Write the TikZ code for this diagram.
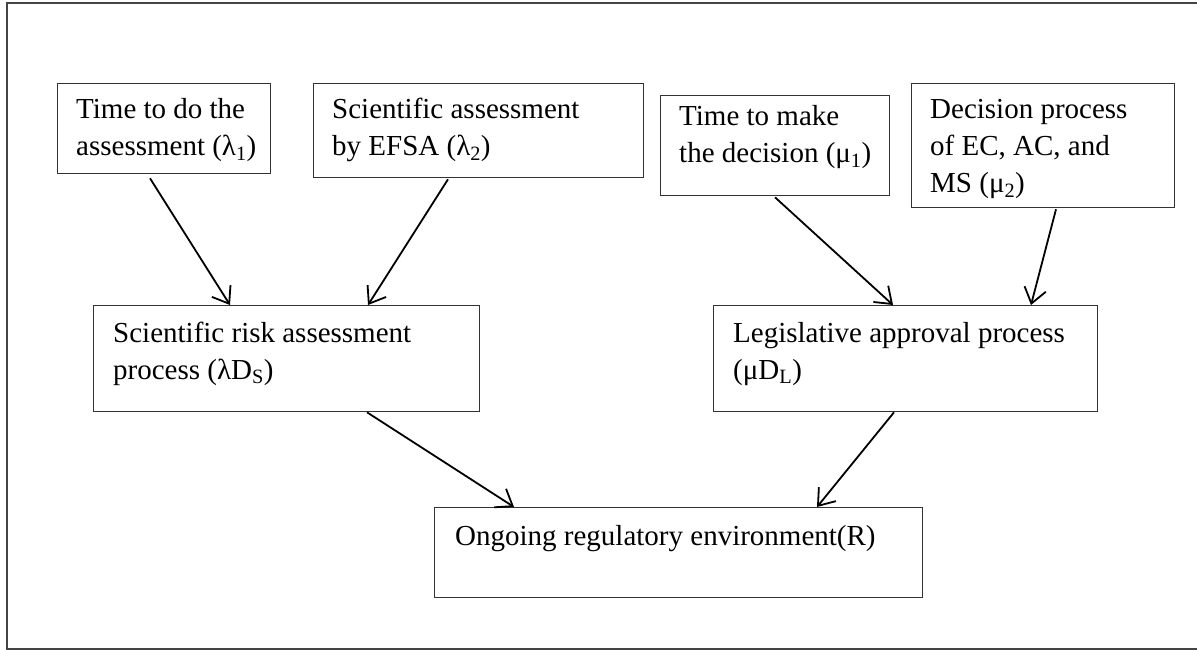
\documentclass[tikz,border=0pt]{standalone}
\usepackage{fontspec}
\setmainfont{Liberation Serif}
\usetikzlibrary{arrows.meta,calc}
\definecolor{boxline}{HTML}{333333}
\definecolor{frameline}{HTML}{444444}
\tikzset{
  box/.style={draw=boxline, line width=1.3pt, rectangle, inner sep=0pt, anchor=north west},
  % multi-line labels: base anchor sits on the last line's baseline
  lbl/.style={inner sep=0pt, anchor=base west, align=left,
    font=\fontsize{29}{37}\selectfont},
  flow/.style={draw=black, line width=1.8pt,
    -{Straight Barb[length=15pt,width=22pt,line width=1.8pt]}},
}
\begin{document}
\begin{tikzpicture}[x=1pt,y=-1pt]
  \useasboundingbox (0,0) rectangle (1197,650);
  % outer frame
  \draw[frameline, line width=2pt] (1200,3) -- (7,3) -- (7,649) -- (1200,649);

  % top row
  \node[box, minimum width=213pt, minimum height=90pt] (b1) at (57,83) {};
  \node[box, minimum width=330pt, minimum height=94pt] (b2) at (313,83) {};
  \node[box, minimum width=229pt, minimum height=100pt] (b3) at (660,95) {};
  \node[box, minimum width=263pt, minimum height=124pt] (b4) at (911,83) {};
  % middle row
  \node[box, minimum width=386pt, minimum height=106pt] (b5) at (93,305) {};
  \node[box, minimum width=384pt, minimum height=106pt] (b6) at (713,305) {};
  % bottom
  \node[box, minimum width=488pt, minimum height=90pt] (b7) at (434,507) {};

  % texts (offsets give the last baseline below each box top)
  \node[lbl] (t1) at ($(b1.north west)+(19,73)$) {Time to do the\\assessment (λ\textsubscript{1})};
  \node[lbl] (t2) at ($(b2.north west)+(19,73)$) {Scientific assessment\\by EFSA (λ\textsubscript{2})};
  \node[lbl] (t3) at ($(b3.north west)+(19,68)$) {Time to make\\the decision (μ\textsubscript{1})};
  \node[lbl] (t4) at ($(b4.north west)+(19,110)$) {Decision process\\of EC, AC, and\\MS (μ\textsubscript{2})};
  \node[lbl] (t5) at ($(b5.north west)+(20,74)$) {Scientific risk assessment\\process (λD\textsubscript{S})};
  \node[lbl] (t6) at ($(b6.north west)+(20,74)$) {Legislative approval process\\(μD\textsubscript{L})};
  \node[lbl] (t7) at ($(b7.north west)+(21,38)$) {Ongoing regulatory environment(R)};

  % connectors
  \draw[flow] ($(b1.south west)+(93,4)$) -- ($(b5.north west)+(137,0)$);
  \draw[flow] ($(b2.south west)+(135,1)$) -- ($(b5.north west)+(275,0)$);
  \draw[flow] ($(b3.south west)+(115,1)$) -- ($(b6.north west)+(180,0)$);
  \draw[flow] ($(b4.south west)+(145,1)$) -- ($(b6.north west)+(318,0)$);
  \draw[flow] ($(b5.south west)+(274,0)$) -- ($(b7.north west)+(80,0)$);
  \draw[flow] ($(b6.south west)+(181,0)$) -- ($(b7.north west)+(383,0)$);
\end{tikzpicture}
\end{document}
